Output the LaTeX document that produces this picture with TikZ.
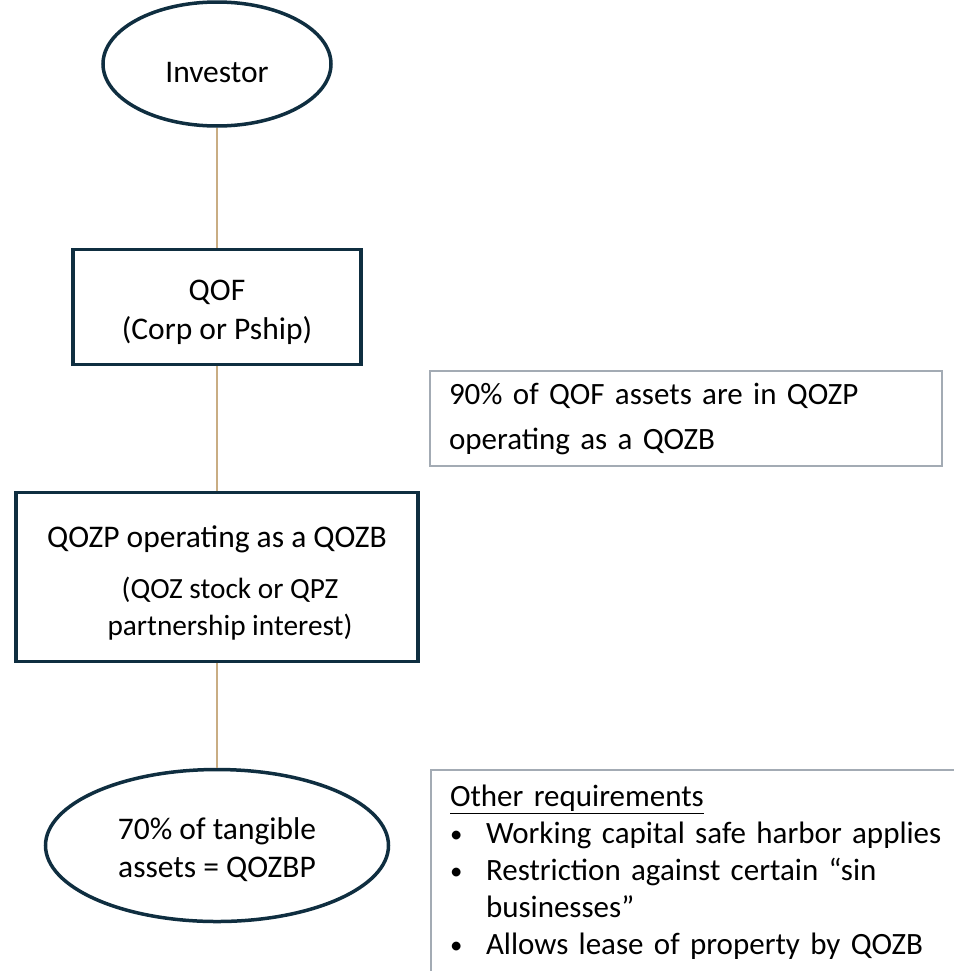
\documentclass[tikz,border=0pt]{standalone}
\usepackage{fontspec}
\setmainfont{Carlito}
\usepackage{xcolor}
\usetikzlibrary{positioning, shapes.geometric}
\definecolor{navy}{HTML}{0F2E40}
\definecolor{tan}{HTML}{C9AD83}
\definecolor{slate}{HTML}{A3ABB4}
\newcommand{\lift}[1]{\rule{0pt}{#1bp}}
\newcommand{\dotitem}{\makebox[36bp][l]{\raisebox{1bp}{\scalebox{0.8}{\textbullet}}}}

\begin{document}
\begin{tikzpicture}[
    x=1bp, y=-1bp,
    oval/.style={ellipse, draw=navy, line width=3.5bp, inner sep=0pt,
      align=center, font=\fontsize{31.5bp}{38.5bp}\selectfont},
    block/.style={rectangle, draw=navy, line width=3.5bp, inner sep=0pt,
      align=center, font=\fontsize{31.5bp}{38.5bp}\selectfont},
    note/.style={rectangle, draw=slate, line width=2bp, inner xsep=19bp,
      align=left, font=\fontsize{31bp}{45bp}\selectfont},
    link/.style={draw=tan, line width=1.5bp}
]
\useasboundingbox (0,0) rectangle (954,971);
\clip (0,0) rectangle (954,971);
\node[oval, minimum width=228bp, minimum height=124bp] (investor) at (217,64)
  {\lift{38}Investor};
\node[block, minimum width=288bp, minimum height=115bp, below=120bp of investor] (qof)
  {\lift{31}QOF\\(Corp or Pship)};
\node[block, minimum width=402bp, minimum height=169bp, below=124.5bp of qof,
  font=\fontsize{29.3bp}{37bp}\selectfont] (qozp)
  {{\fontsize{31.5bp}{38.5bp}\selectfont\lift{33}QOZP operating as a QOZB}\\[14bp]
   \hspace*{26bp}(QOZ stock or QPZ\\\hspace*{26bp}partnership interest)};
\node[oval, minimum width=343bp, minimum height=152bp, below=104.5bp of qozp] (tangible)
  {\lift{30}70\% of tangible\\assets = QOZBP};
\node[note, text width=474bp, minimum height=95bp] (share) at (686,418.5)
  {90\% of QOF assets are in QOZP\\operating as a QOZB};
\node[note, anchor=north west, text width=520bp, inner ysep=15bp,
  font=\fontsize{31bp}{37bp}\selectfont] (rules) at (430,769)
  {\underline{Other requirements}\\
   \dotitem Working capital safe harbor applies\\
   \dotitem Restriction against certain “sin\\
   \hspace*{36bp}businesses”\\
   \dotitem Allows lease of property by QOZB\\[20bp]
   \mbox{}};
\draw[link] (investor) -- (qof);
\draw[link] (qof) -- (qozp);
\draw[link] (qozp) -- (tangible);
\end{tikzpicture}
\end{document}
